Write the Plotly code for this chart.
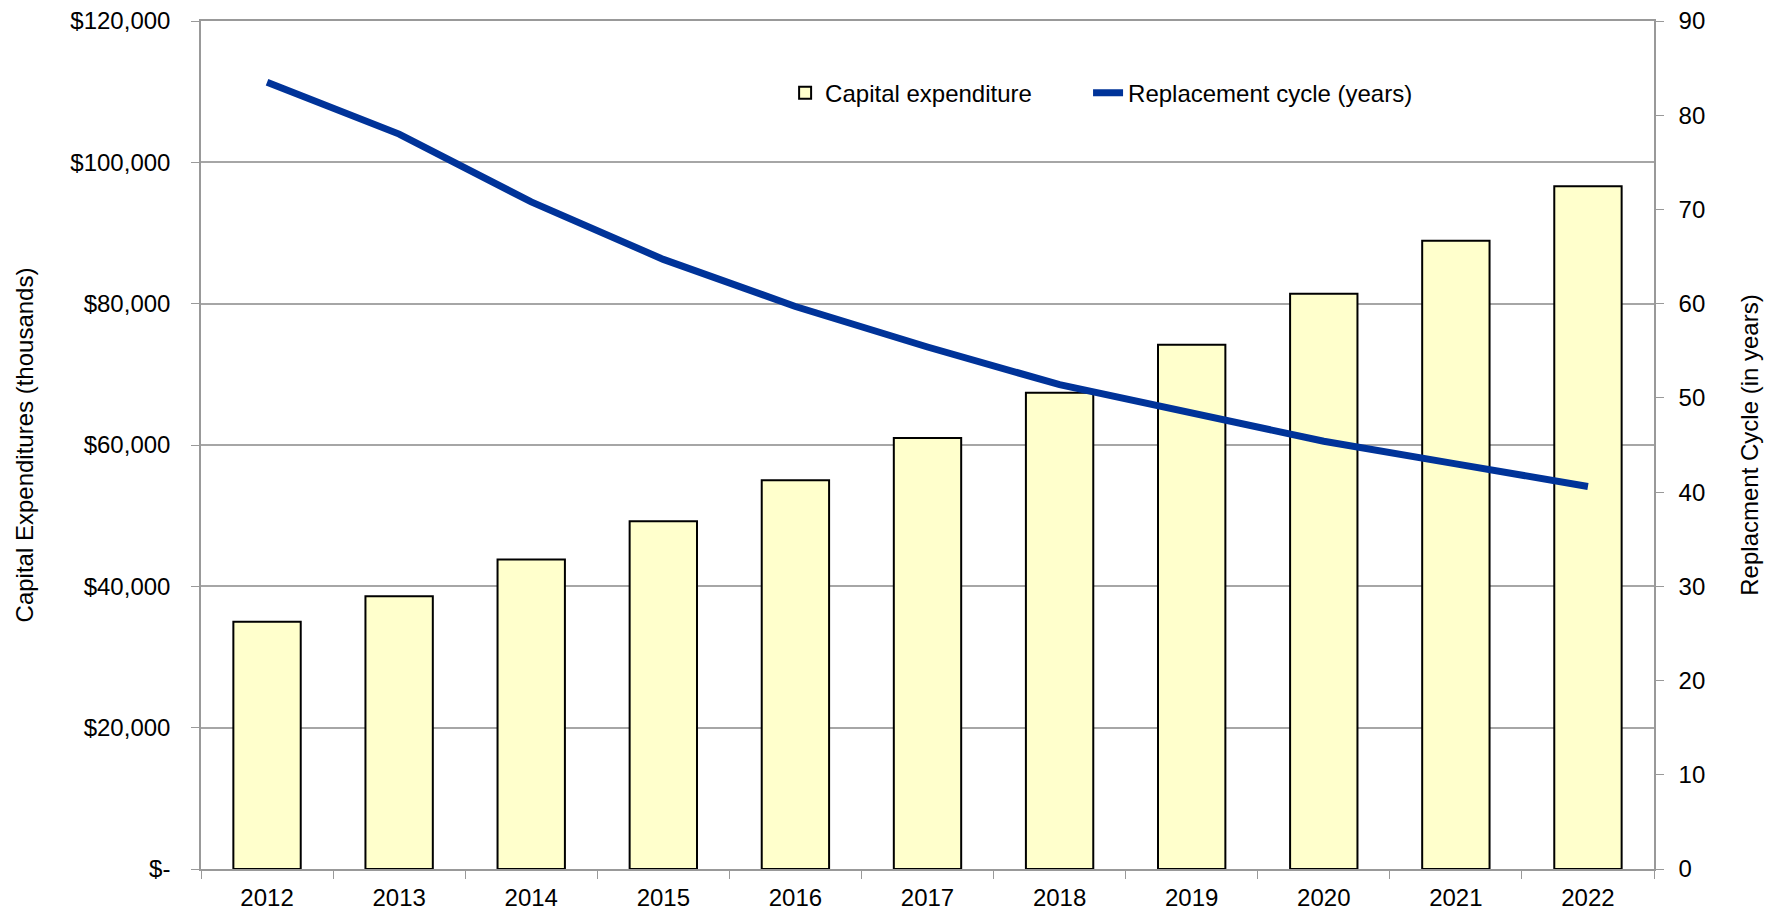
import plotly.graph_objects as go

# Fiscal years on the category axis
years = ["2012", "2013", "2014", "2015", "2016", "2017", "2018", "2019", "2020", "2021", "2022"]

# Capital expenditure per year (thousands of dollars)
capital_expenditure = [35000, 38600, 43800, 49200, 55000, 61000, 67400, 74200, 81400, 88900, 96600]

# Asset replacement cycle in years
replacement_cycle = [83.5, 78.0, 70.8, 64.7, 59.7, 55.4, 51.4, 48.4, 45.4, 43.0, 40.6]

# Left axis ticks and their dollar labels
capex_ticks = [0, 20000, 40000, 60000, 80000, 100000, 120000]
capex_tick_labels = ["$-", "$20,000", "$40,000", "$60,000", "$80,000", "$100,000", "$120,000"]

# Right axis ticks
cycle_ticks = [0, 10, 20, 30, 40, 50, 60, 70, 80, 90]

FONT = "Liberation Sans, Arial, sans-serif"
AXIS_GREY = "#999999"
GRID_GREY = "#a6a6a6"

fig = go.Figure()

fig.add_trace(go.Bar(
    x=years,
    y=capital_expenditure,
    name="Capital expenditure",
    marker=dict(color="#FFFFCC", line=dict(color="#000000", width=2)),
    yaxis="y",
    legend="legend",
))

fig.add_trace(go.Scatter(
    x=years,
    y=replacement_cycle,
    name="Replacement cycle (years)",
    mode="lines",
    line=dict(color="#003399", width=7),
    yaxis="y2",
    legend="legend2",
))

legend_style = dict(
    orientation="h",
    xanchor="left",
    yanchor="middle",
    y=0.915,
    bgcolor="rgba(0,0,0,0)",
    font=dict(family=FONT, size=24, color="#000000"),
)

fig.update_layout(
    width=1780,
    height=910,
    margin=dict(l=201, r=126, t=21, b=41),
    paper_bgcolor="white",
    plot_bgcolor="white",
    font=dict(family=FONT, size=24, color="#000000"),
    bargap=0.49,
    showlegend=True,
    legend=dict(x=0.402, **legend_style),
    legend2=dict(x=0.6105, **legend_style),
    xaxis=dict(
        type="category",
        tickson="boundaries",
        ticks="outside",
        ticklen=8,
        tickcolor=AXIS_GREY,
        showline=True,
        linecolor=AXIS_GREY,
        linewidth=1.5,
        mirror=True,
        showgrid=False,
        automargin=False,
        ticklabelstandoff=6,
        tickfont=dict(family=FONT, size=24),
    ),
    yaxis=dict(
        range=[0, 120000],
        tickvals=capex_ticks,
        ticktext=capex_tick_labels,
        ticks="outside",
        ticklen=8,
        tickcolor=AXIS_GREY,
        showline=True,
        linecolor=AXIS_GREY,
        linewidth=1.5,
        showgrid=True,
        gridcolor=GRID_GREY,
        gridwidth=1.5,
        zeroline=False,
        automargin=False,
        ticklabelstandoff=16,
        title=dict(text="Capital Expenditures (thousands)", standoff=30,
                   font=dict(family=FONT, size=24)),
    ),
    yaxis2=dict(
        overlaying="y",
        side="right",
        range=[0, 90],
        tickvals=cycle_ticks,
        ticks="outside",
        ticklen=8,
        tickcolor=AXIS_GREY,
        showline=True,
        linecolor=AXIS_GREY,
        linewidth=1.5,
        showgrid=False,
        zeroline=False,
        automargin=False,
        ticklabelstandoff=10,
        title=dict(text="Replacment Cycle (in years)", standoff=37,
                   font=dict(family=FONT, size=24)),
    ),
)

fig.write_html("out.html")
